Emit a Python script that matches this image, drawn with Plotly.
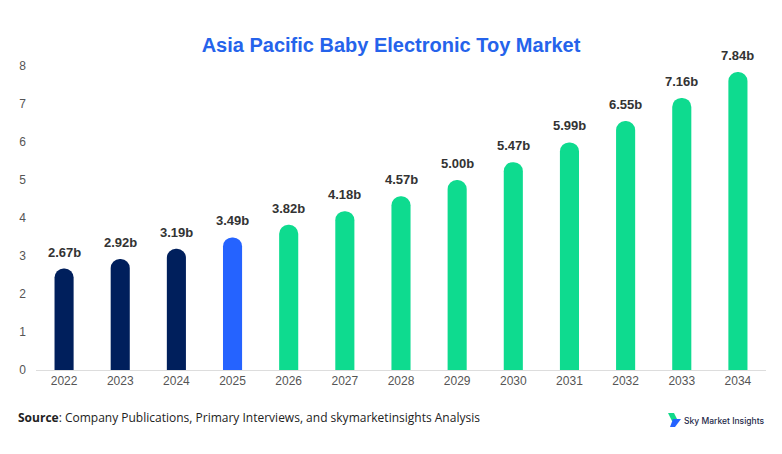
import plotly.graph_objects as pg

years = ["2022", "2023", "2024", "2025", "2026", "2027", "2028", "2029", "2030", "2031", "2032", "2033", "2034"]
values = [2.67, 2.92, 3.19, 3.49, 3.82, 4.18, 4.57, 5.00, 5.47, 5.99, 6.55, 7.16, 7.84]
labels = ["2.67b", "2.92b", "3.19b", "3.49b", "3.82b", "4.18b", "4.57b", "5.00b", "5.47b", "5.99b", "6.55b", "7.16b", "7.84b"]

navy = "#001f5c"
blue = "#2563ff"
green = "#0edb8f"
colors = [navy] * 3 + [blue] + [green] * 9

fig = pg.Figure()
fig.add_trace(pg.Bar(x=years, y=values, marker=dict(color=colors, cornerradius="50%", line=dict(width=0)),
                     width=0.34, hoverinfo="x+y"))

# category axis: annotation x given as category index
for i, (v, t) in enumerate(zip(values, labels)):
    fig.add_annotation(x=i, y=v, text="<b>" + t + "</b>", showarrow=False, yanchor="bottom", yshift=7,
                       font=dict(family="Liberation Sans, Arial", size=13, color="#333333"))

fig.update_layout(
    width=782, height=454,
    margin=dict(l=36, r=16, t=66, b=84),
    paper_bgcolor="white", plot_bgcolor="white",
    showlegend=False,
    title=dict(text="<b>Asia Pacific Baby Electronic Toy Market</b>", x=0.5, xanchor="center", y=0.9, yanchor="middle",
               font=dict(family="Liberation Sans, Arial", size=20, color="#2563eb")),
    font=dict(family="Liberation Sans, Arial", size=12, color="#555555"),
)
fig.update_xaxes(type="category", range=[-0.5, len(years) - 0.5], showline=True, linecolor="#dddddd", linewidth=1,
                 showgrid=False, ticks="", tickfont=dict(size=12, color="#555555"))
fig.update_yaxes(range=[0, 8], dtick=1, showgrid=False, zeroline=False, showline=False, ticks="",
                 ticklabelstandoff=9, tickfont=dict(size=12, color="#555555"))

fig.add_annotation(xref="paper", yref="paper", x=-0.028, y=-0.157, xanchor="left", yanchor="middle", showarrow=False,
                   text="<b>Source</b>: Company Publications, Primary Interviews, and skymarketinsights Analysis",
                   font=dict(family="Open Sans, Noto Sans", size=12, color="#222222"))

# logo
fig.add_shape(type="path", xref="paper", yref="paper",
              path="M 0.8658 -0.1414 L 0.8740 -0.1414 L 0.8795 -0.1678 L 0.8712 -0.1678 Z",
              fillcolor="#12d98a", line=dict(width=0))
fig.add_shape(type="path", xref="paper", yref="paper",
              path="M 0.8726 -0.1612 L 0.8836 -0.1612 L 0.8754 -0.1875 L 0.8685 -0.1875 Z",
              fillcolor="#2563ff", line=dict(width=0))
fig.add_annotation(xref="paper", yref="paper", x=0.885, y=-0.168, xanchor="left", yanchor="middle", showarrow=False,
                   text="Sky Market Insights", font=dict(family="Inter, Noto Sans", size=8.5, color="#1e2a4a", weight=500))

fig.write_html("out.html", config={"displayModeBar": False}, post_script="document.body.style.margin='0';")
